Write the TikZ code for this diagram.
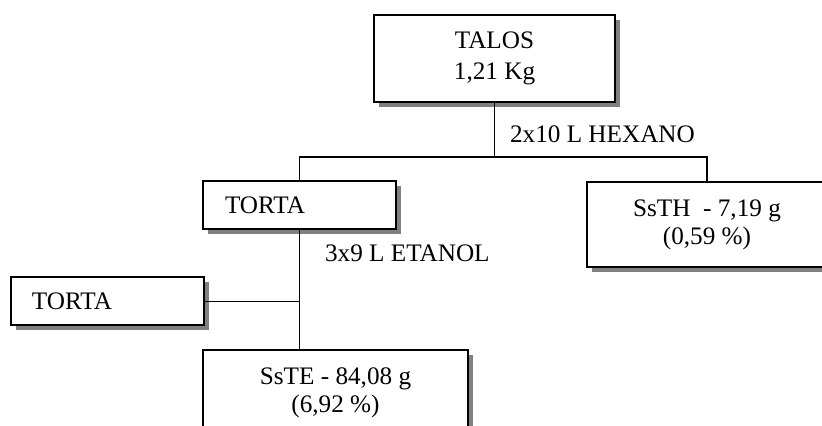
\documentclass[tikz,border=0pt]{standalone}
\usepackage{fontspec}
\setmainfont{Liberation Serif}
\usetikzlibrary{shadows}
\begin{document}
\begin{tikzpicture}[
    x=0.5pt, y=-0.5pt,
    every node/.style={font=\fontsize{12.6}{14}\selectfont},
    box/.style={rectangle, draw, line width=1pt, fill=white, inner sep=0pt, align=center,
        drop shadow={shadow xshift=2.5pt, shadow yshift=-2.5pt, fill=black!50, opacity=1}},
    cake/.style={box, align=left, minimum height=24pt},
    link/.style={line width=0.7pt},
]
\clip (0,0) rectangle (822,426);
\fill[white] (0,0) rectangle (822,426);

\node[box, minimum width=120.5pt, minimum height=43.5pt] (talos) at (494.5,58.5) {TALOS\\[1.5pt]1,21 Kg};
\node[cake, text width=74.5pt, inner xsep=11pt] (torta1) at (299.5,205.5) {TORTA};
\node[box, minimum width=120pt, minimum height=42.5pt] (ssth) at (707,224.5) {SsTH~~- 7,19 g\\(0,59 \%)};
\node[cake, text width=75.5pt, inner xsep=10.5pt] (torta2) at (107.5,301.5) {TORTA};
\node[box, minimum width=132.5pt, minimum height=42.5pt] (sste) at (335.5,392.5) {SsTE - 84,08 g\\(6,92 \%)};

\coordinate (hx) at (494.5,157);
\coordinate (et) at (299.5,301.5);

\draw[link] (talos.south) -- (hx);
\draw[link] (torta1.north) |- (hx) -| (ssth.north);
\draw[link] (torta1.south) -- (et) -- (et |- sste.north);
\draw[link] (torta2.east) -- (et);

\node[anchor=west] (hexano) at (503,134) {2x10 L HEXANO};
\node[anchor=west] (etanol) at (318,253) {3x9 L ETANOL};
\end{tikzpicture}
\end{document}
